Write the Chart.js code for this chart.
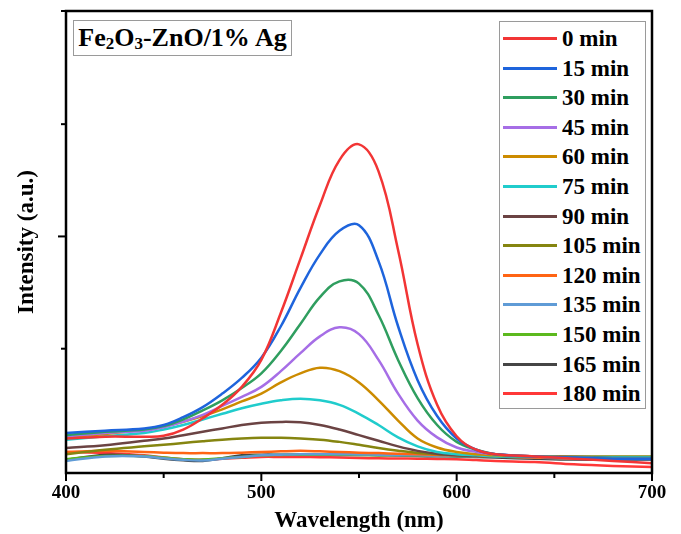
<!DOCTYPE html>
<html>
<head>
<meta charset="utf-8">
<script src="https://cdn.jsdelivr.net/npm/chart.js@4/dist/chart.umd.min.js"></script>
<style>
  html, body { margin: 0; padding: 0; background: #fff; }
  #wrap { position: relative; width: 681px; height: 534px; }
  #wrap canvas { position: absolute; left: 0; top: 0; }
  .serif { font-family: "Liberation Serif", "Times New Roman", "DejaVu Serif", serif; font-weight: bold; color: #000; }
  #sample {
    position: absolute; left: 73px; top: 20px; width: 217px; height: 34px;
    border: 1px solid #9a9a9a; font-size: 26px; line-height: 34px; text-align: center;
    background: #fff; white-space: nowrap;
  }
  #sample sub { font-size: 17px; vertical-align: -3px; line-height: 0; }
  #legend {
    position: absolute; left: 499px; top: 21px; width: 145px; height: 386px;
    border: 1px solid #9a9a9a; background: #fff;
  }
  .item { position: absolute; left: 0; height: 28px; width: 145px; }
  .item .swatch { position: absolute; left: 3px; top: 12px; width: 54px; height: 3px; }
  .item .txt { position: absolute; left: 62px; top: 0; font-size: 23px; line-height: 28px; white-space: nowrap; }
</style>
</head>
<body>
<div id="wrap">
  <canvas id="c" width="681" height="534"></canvas>
  <div id="sample" class="serif">Fe<sub>2</sub>O<sub>3</sub>-ZnO/1% Ag</div>
  <div id="legend" class="serif"></div>
</div>
<script>
// Irradiation time of each spectrum
const timeLabels = ['0 min', '15 min', '30 min', '45 min', '60 min', '75 min', '90 min',
                    '105 min', '120 min', '135 min', '150 min', '165 min', '180 min'];

// Wavelength grid (nm)
const wavelengths = [400, 420, 440, 450, 460, 470, 480, 490, 500, 510, 520, 530, 540,
                     550, 560, 570, 580, 590, 600, 610, 620, 640, 660, 680, 700];

// Intensity (a.u.) of each spectrum on the wavelength grid
const t0   = [0.100, 0.108, 0.108, 0.112, 0.140, 0.190, 0.250, 0.330, 0.450, 0.660, 0.900, 1.140, 1.340,
              1.410, 1.290, 0.940, 0.520, 0.250, 0.110, 0.050, 0.030, 0.020, 0.010, 0.000, -0.010];
const t15  = [0.125, 0.135, 0.145, 0.160, 0.195, 0.240, 0.300, 0.370, 0.460, 0.600, 0.770, 0.920, 1.025,
              1.050, 0.890, 0.600, 0.360, 0.200, 0.100, 0.050, 0.030, 0.020, 0.015, 0.010, 0.010];
const t30  = [0.115, 0.130, 0.140, 0.155, 0.185, 0.225, 0.270, 0.325, 0.390, 0.490, 0.610, 0.730, 0.800,
              0.790, 0.650, 0.450, 0.280, 0.160, 0.085, 0.050, 0.030, 0.020, 0.015, 0.010, 0.010];
const t45  = [0.110, 0.125, 0.135, 0.150, 0.175, 0.205, 0.245, 0.285, 0.330, 0.400, 0.480, 0.555, 0.595,
              0.565, 0.450, 0.300, 0.180, 0.105, 0.060, 0.040, 0.030, 0.020, 0.015, 0.010, 0.010];
const t60  = [0.105, 0.120, 0.140, 0.155, 0.175, 0.200, 0.230, 0.265, 0.300, 0.350, 0.390, 0.415, 0.400,
              0.350, 0.270, 0.180, 0.100, 0.060, 0.040, 0.030, 0.025, 0.020, 0.015, 0.010, 0.010];
const t75  = [0.094, 0.110, 0.125, 0.140, 0.160, 0.185, 0.210, 0.235, 0.255, 0.270, 0.277, 0.270, 0.250,
              0.210, 0.160, 0.105, 0.065, 0.040, 0.030, 0.025, 0.020, 0.020, 0.015, 0.015, 0.015];
const t90  = [0.058, 0.070, 0.090, 0.100, 0.115, 0.130, 0.145, 0.160, 0.170, 0.174, 0.172, 0.160, 0.140,
              0.115, 0.090, 0.065, 0.045, 0.032, 0.025, 0.022, 0.020, 0.020, 0.018, 0.016, 0.015];
const t105 = [0.030, 0.050, 0.065, 0.072, 0.080, 0.088, 0.095, 0.100, 0.103, 0.103, 0.100, 0.095, 0.085,
              0.072, 0.058, 0.046, 0.036, 0.030, 0.026, 0.023, 0.021, 0.020, 0.020, 0.020, 0.020];
const t120 = [0.040, 0.045, 0.040, 0.037, 0.035, 0.035, 0.035, 0.037, 0.040, 0.043, 0.045, 0.043, 0.040,
              0.037, 0.035, 0.032, 0.030, 0.027, 0.025, 0.022, 0.020, 0.015, 0.012, 0.010, 0.010];
const t135 = [0.000, 0.020, 0.020, 0.012, 0.005, 0.002, 0.010, 0.018, 0.025, 0.028, 0.030, 0.030, 0.030,
              0.029, 0.028, 0.026, 0.025, 0.023, 0.022, 0.021, 0.020, 0.015, 0.010, 0.008, 0.008];
const t150 = [0.008, 0.022, 0.022, 0.015, 0.008, 0.006, 0.012, 0.018, 0.025, 0.027, 0.028, 0.028, 0.028,
              0.027, 0.026, 0.025, 0.024, 0.023, 0.022, 0.021, 0.020, 0.016, 0.012, 0.010, 0.010];
const t165 = [0.005, 0.027, 0.020, 0.010, 0.003, 0.000, 0.012, 0.025, 0.028, 0.028, 0.028, 0.028, 0.027,
              0.027, 0.026, 0.024, 0.022, 0.021, 0.020, 0.018, 0.015, 0.010, 0.006, 0.005, 0.005];
const t180 = [0.040, 0.035, 0.025, 0.015, 0.008, 0.005, 0.010, 0.014, 0.018, 0.018, 0.018, 0.017, 0.015,
              0.013, 0.012, 0.011, 0.010, 0.009, 0.008, 0.004, 0.000, -0.005, -0.015, -0.022, -0.027];

const spectra = [t0, t15, t30, t45, t60, t75, t90, t105, t120, t135, t150, t165, t180];

// Line colours, one per spectrum
const lineColors = ['#f23535', '#1e64dc', '#2f9e5f', '#a66ee6', '#cc8b00', '#20cccc', '#6b4343',
                    '#858510', '#ff6414', '#5f9bd6', '#5cb91e', '#454545', '#ff3838'];

const datasets = spectra.map((vals, i) => ({
  label: timeLabels[i],
  data: vals.map((v, j) => ({ x: wavelengths[j], y: v })),
  borderColor: lineColors[i],
  backgroundColor: lineColors[i],
  borderWidth: 2.5,
  pointRadius: 0,
  fill: false,
  tension: 0.4
}));

const FONT = '"Liberation Serif", "Times New Roman", "DejaVu Serif", serif';

// Frame round the plot and outward tick marks (major / minor)
const framePlugin = {
  id: 'frame',
  afterDatasetsDraw(chart) {
    const { ctx, chartArea: a, scales } = chart;
    ctx.save();
    ctx.strokeStyle = '#000';
    ctx.lineCap = 'butt';
    ctx.lineWidth = 2;
    const xs = scales.x;
    xs.ticks.forEach(t => {
      const px = xs.getPixelForValue(t.value);
      const len = (Math.round(t.value) % 100 === 0) ? 8 : 5;
      ctx.beginPath(); ctx.moveTo(px, a.bottom); ctx.lineTo(px, a.bottom + len); ctx.stroke();
    });
    const ys = scales.y;
    ys.ticks.forEach(t => {
      if (t.value < 0) return;
      const py = ys.getPixelForValue(t.value);
      const len = (Math.abs(t.value - Math.round(t.value)) < 1e-6) ? 8 : 5;
      ctx.beginPath(); ctx.moveTo(a.left - len, py); ctx.lineTo(a.left, py); ctx.stroke();
    });
    ctx.lineWidth = 2.5;
    ctx.strokeRect(a.left, a.top, a.right - a.left, a.bottom - a.top);
    ctx.restore();
  }
};

// Legend box built from the chart's own datasets
const htmlLegend = {
  id: 'htmlLegend',
  afterUpdate(chart) {
    const box = document.getElementById('legend');
    box.innerHTML = '';
    chart.data.datasets.forEach((ds, i) => {
      const row = document.createElement('div');
      row.className = 'item';
      row.style.top = (17 + i * 29.6 - 14) + 'px';
      const sw = document.createElement('div');
      sw.className = 'swatch';
      sw.style.background = ds.borderColor;
      const tx = document.createElement('div');
      tx.className = 'txt';
      tx.textContent = ds.label;
      row.appendChild(sw); row.appendChild(tx);
      box.appendChild(row);
    });
  }
};

new Chart(document.getElementById('c'), {
  type: 'line',
  data: { datasets },
  plugins: [framePlugin, htmlLegend],
  options: {
    responsive: false,
    animation: false,
    layout: { padding: { left: 0, top: 11, right: 29, bottom: 0 } },
    plugins: { legend: { display: false }, tooltip: { enabled: false } },
    scales: {
      x: {
        type: 'linear',
        min: 400, max: 700,
        grid: { display: false, drawTicks: false },
        border: { display: false },
        afterFit(s) { s.height = 61; },
        ticks: {
          stepSize: 50,
          padding: 9,
          color: '#000',
          font: { family: FONT, size: 19, weight: 'bold' },
          callback: v => (v % 100 === 0 ? String(v) : '')
        },
        title: {
          display: true,
          text: 'Wavelength (nm)',
          color: '#000',
          font: { family: FONT, size: 23, weight: 'bold' },
          padding: { top: 0, bottom: -1 }
        }
      },
      y: {
        type: 'linear',
        min: -0.0536, max: 2.004,
        grid: { display: false, drawTicks: false },
        border: { display: false },
        afterFit(s) { s.width = 66; },
        ticks: {
          stepSize: 0.5,
          callback: () => ''
        },
        title: {
          display: true,
          text: 'Intensity (a.u.)',
          color: '#000',
          font: { family: FONT, size: 23, weight: 'bold' },
          padding: { top: 13, bottom: 0 }
        }
      }
    }
  }
});
</script>
</body>
</html>
